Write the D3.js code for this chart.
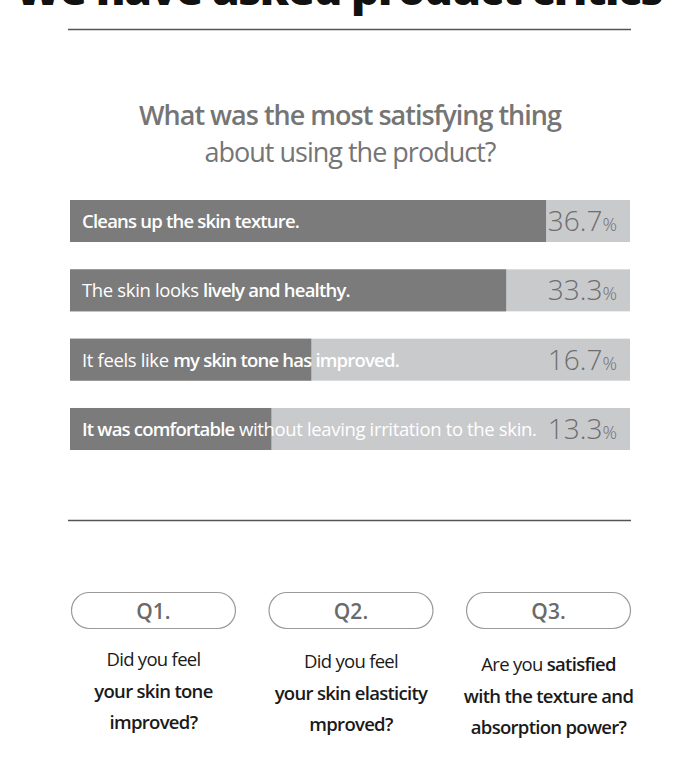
<!DOCTYPE html>
<html>
<head>
<meta charset="utf-8">
<script src="https://cdn.jsdelivr.net/npm/d3@7"></script>
<style>
  body { margin: 0; background: #fff; }
  svg { display: block; font-family: "Open Sans", sans-serif; }
</style>
</head>
<body>
<svg id="chart" width="700" height="759"></svg>
<script>
"use strict"

// ---- data ----
var title = "We have asked product critics";
var question = ["What was the most satisfying thing", "about using the product?"];

// each answer is a list of [text, bold] pieces
var answers = [
  [["Cleans up the skin texture.", true]],
  [["The skin looks ", false], ["lively and healthy.", true]],
  [["It feels like ", false], ["my skin tone has improved.", true]],
  [["It was comfortable", true], [" without leaving irritation to the skin.", false]]
];
var shares = [36.7, 33.3, 16.7, 13.3];

var qLabels = ["Q1.", "Q2.", "Q3."];
var qTexts = [
  [[["Did you feel", false]], [["your skin tone", true]], [["improved?", true]]],
  [[["Did you feel", false]], [["your skin elasticity", true]], [["mproved?", true]]],
  [[["Are you ", false], ["satisfied", true]], [["with the texture and", true]], [["absorption power?", true]]]
];

var svg = d3.select("#chart");
var W = 700, left = 70, right = 630;

// title, cut off by the top of the page like in the source
svg.append("text")
  .attr("x", 338.5).attr("y", 5)
  .attr("text-anchor", "middle")
  .attr("font-size", 44.5).attr("font-weight", 800)
  .attr("letter-spacing", -1.5)
  .attr("fill", "#111")
  .text(title);

svg.append("line").attr("x1", 68).attr("x2", 631).attr("y1", 29.5).attr("y2", 29.5)
  .attr("stroke", "#555").attr("stroke-width", 1.5);

// question
svg.selectAll("text.q").data(question).enter().append("text")
  .attr("class", "q")
  .attr("x", W / 2)
  .attr("y", function(d, i){ return i === 0 ? 125 : 162; })
  .attr("text-anchor", "middle")
  .attr("font-size", 27)
  .attr("letter-spacing", -1)
  .attr("font-weight", function(d, i){ return i === 0 ? 600 : 400; })
  .attr("fill", "#757575")
  .text(function(d){ return d; });

// bars
var y = d3.scaleBand().domain(d3.range(answers.length)).range([200, 450]).paddingInner(0.394);
var x = d3.scaleLinear().domain([-3.85, 43.85]).range([left, right]);

var rows = svg.selectAll("g.row").data(answers).enter().append("g")
  .attr("class", "row")
  .attr("transform", function(d, i){ return "translate(0," + y(i) + ")"; });

rows.append("rect")
  .attr("x", left).attr("width", right - left)
  .attr("height", y.bandwidth())
  .attr("fill", "#c9cacc");

rows.append("rect")
  .attr("x", left)
  .attr("width", function(d, i){ return x(shares[i]) - left; })
  .attr("height", y.bandwidth())
  .attr("fill", "#7b7b7b");

var lab = rows.append("text")
  .attr("x", 82).attr("y", y.bandwidth() / 2 + 7)
  .attr("font-size", 18.5)
  .attr("fill", "#fff");
lab.selectAll("tspan").data(function(d){ return d; }).enter().append("tspan")
  .attr("font-weight", function(d){ return d[1] ? 600 : 400; })
  .attr("letter-spacing", function(d){ return d[1] ? -0.8 : -0.35; })
  .text(function(d){ return d[0]; });

var pct = rows.append("text")
  .attr("x", 617).attr("y", y.bandwidth() / 2 + 10)
  .attr("text-anchor", "end")
  .attr("fill", "#6e6e6e");
pct.append("tspan").attr("font-size", 28).attr("font-weight", 300)
  .text(function(d, i){ return shares[i].toFixed(1); });
pct.append("tspan").attr("font-size", 18).attr("font-weight", 300)
  .text("%");

svg.append("line").attr("x1", 68).attr("x2", 631).attr("y1", 520.5).attr("y2", 520.5)
  .attr("stroke", "#555").attr("stroke-width", 1.5);

// Q pills
var qx = d3.scaleBand().domain(qLabels).range([71, 631]).paddingInner(0.165);
var qStart = [666, 668, 671];

var qs = svg.selectAll("g.qbox").data(qLabels).enter().append("g")
  .attr("class", "qbox")
  .attr("transform", function(d){ return "translate(" + qx(d) + ",0)"; });

qs.append("rect")
  .attr("x", 0.5).attr("y", 592.5)
  .attr("width", qx.bandwidth() - 1).attr("height", 36)
  .attr("rx", 18).attr("ry", 18)
  .attr("fill", "none").attr("stroke", "#9a9a9a").attr("stroke-width", 1.2);

qs.append("text")
  .attr("x", qx.bandwidth() / 2).attr("y", 619)
  .attr("text-anchor", "middle")
  .attr("font-size", 21).attr("font-weight", 600)
  .attr("fill", "#6a6a6a")
  .text(function(d){ return d; });

qs.each(function(d, i){
  var g = d3.select(this);
  g.selectAll("text.line").data(qTexts[i]).enter().append("text")
    .attr("class", "line")
    .attr("x", qx.bandwidth() / 2)
    .attr("y", function(l, j){ return qStart[i] + j * 31.5; })
    .attr("text-anchor", "middle")
    .attr("font-size", 18.5)
    .attr("letter-spacing", -0.7)
    .attr("fill", "#1a1a1a")
    .selectAll("tspan").data(function(l){ return l; }).enter().append("tspan")
    .attr("font-weight", function(p){ return p[1] ? 600 : 400; })
    .text(function(p){ return p[0]; });
});
</script>
</body>
</html>
